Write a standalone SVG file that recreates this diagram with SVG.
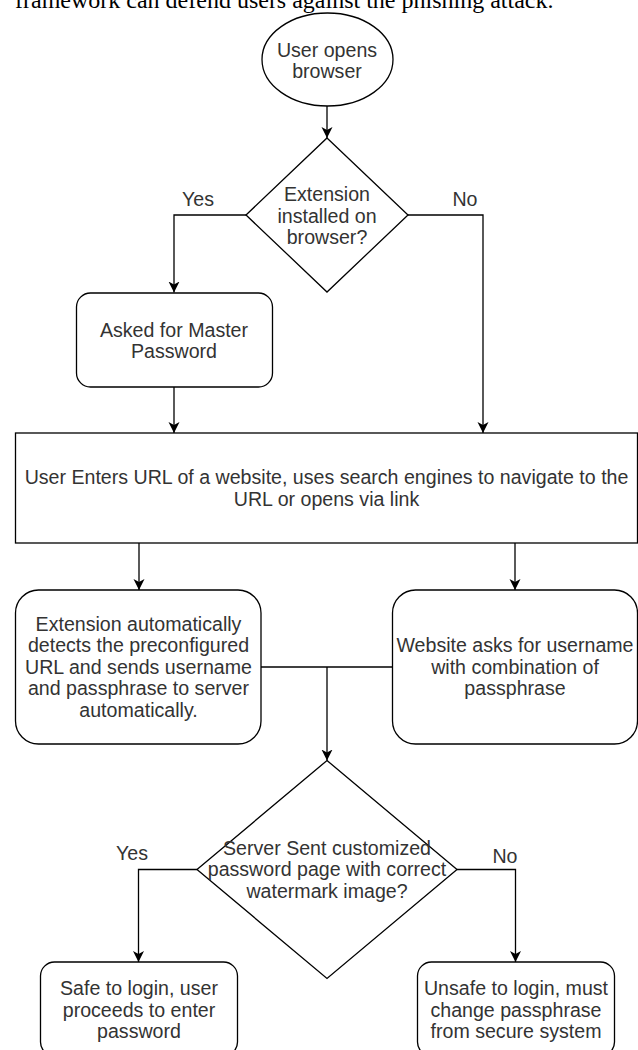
<svg xmlns="http://www.w3.org/2000/svg" width="638" height="1050" viewBox="0 0 638 1050">
<style>
.s{fill:#fff;stroke:#000;stroke-width:1.3}
.t{font-family:"Liberation Sans",Arial,sans-serif;font-size:19.6px;fill:#333;text-anchor:middle}
.c{fill:none;stroke:#000;stroke-width:1.3}
.cap{font-family:"Liberation Serif","Times New Roman",serif;font-size:24px;fill:#000}
</style>
<defs>
<marker id="a" markerUnits="userSpaceOnUse" markerWidth="12" markerHeight="12" viewBox="0 0 12 12" refX="11" refY="6" orient="auto">
<path d="M0,0.5 L11,6 L0,11.5 L3,6 Z" fill="#000"/>
</marker>
</defs>
<rect width="638" height="1050" fill="#fff"/>
<text class="cap" x="15" y="7.5">framework can defend users against the phishing attack.</text>
<g id="connectors">
<path class="c" d="M327,106 V138" marker-end="url(#a)"/>
<path class="c" d="M246,215 H174 V292.5" marker-end="url(#a)"/>
<path class="c" d="M408,215 H483 V433" marker-end="url(#a)"/>
<path class="c" d="M174,387 V433" marker-end="url(#a)"/>
<path class="c" d="M139,543 V590" marker-end="url(#a)"/>
<path class="c" d="M515,543 V590" marker-end="url(#a)"/>
<path class="c" d="M261,667 H392.5"/>
<path class="c" d="M327,667 V760.5" marker-end="url(#a)"/>
<path class="c" d="M197,869.5 H138.5 V962" marker-end="url(#a)"/>
<path class="c" d="M457,869.5 H515.5 V962" marker-end="url(#a)"/>
<text class="t" x="198" y="205.5">Yes</text>
<text class="t" x="465" y="205.5">No</text>
<text class="t" x="132" y="859.5">Yes</text>
<text class="t" x="505" y="862.5">No</text>
</g>
<g id="start">
<ellipse class="s" cx="327.5" cy="59.5" rx="65.5" ry="46.5"/>
<text class="t" x="327" y="56.5">User opens</text>
<text class="t" x="327" y="78">browser</text>
</g>
<g id="decision1">
<path class="s" d="M327,138 L408,215 L327,292 L246,215 Z"/>
<text class="t" x="327" y="201">Extension</text>
<text class="t" x="327" y="222.5">installed on</text>
<text class="t" x="327" y="244">browser?</text>
</g>
<g id="master">
<rect class="s" x="76.5" y="293" width="196" height="94" rx="14"/>
<text class="t" x="174" y="337">Asked for Master</text>
<text class="t" x="174" y="358">Password</text>
</g>
<g id="url">
<rect class="s" x="15.5" y="433" width="622" height="110"/>
<text class="t" x="326.5" y="484">User Enters URL of a website, uses search engines to navigate to the</text>
<text class="t" x="326.5" y="505.5">URL or opens via link</text>
</g>
<g id="extension">
<rect class="s" x="15.5" y="590" width="245.5" height="154" rx="23"/>
<text class="t" x="138.5" y="630.5">Extension automatically</text>
<text class="t" x="138.5" y="652">detects the preconfigured</text>
<text class="t" x="138.5" y="673.5">URL and sends username</text>
<text class="t" x="138.5" y="695">and passphrase to server</text>
<text class="t" x="138.5" y="716.5">automatically.</text>
</g>
<g id="website">
<rect class="s" x="392.5" y="590" width="245" height="154" rx="23"/>
<text class="t" x="515" y="652">Website asks for username</text>
<text class="t" x="515" y="673.5">with combination of</text>
<text class="t" x="515" y="695">passphrase</text>
</g>
<g id="decision2">
<path class="s" d="M327,760.5 L457,869.5 L327,978.5 L197,869.5 Z"/>
<text class="t" x="327" y="854.5">Server Sent customized</text>
<text class="t" x="327" y="876">password page with correct</text>
<text class="t" x="327" y="897.5">watermark image?</text>
</g>
<g id="safe">
<rect class="s" x="40.5" y="962" width="197" height="94" rx="14"/>
<text class="t" x="139" y="995">Safe to login, user</text>
<text class="t" x="139" y="1016.5">proceeds to enter</text>
<text class="t" x="139" y="1038">password</text>
</g>
<g id="unsafe">
<rect class="s" x="417.5" y="962" width="197" height="94" rx="14"/>
<text class="t" x="516" y="995">Unsafe to login, must</text>
<text class="t" x="516" y="1016.5">change passphrase</text>
<text class="t" x="516" y="1038">from secure system</text>
</g>
</svg>
